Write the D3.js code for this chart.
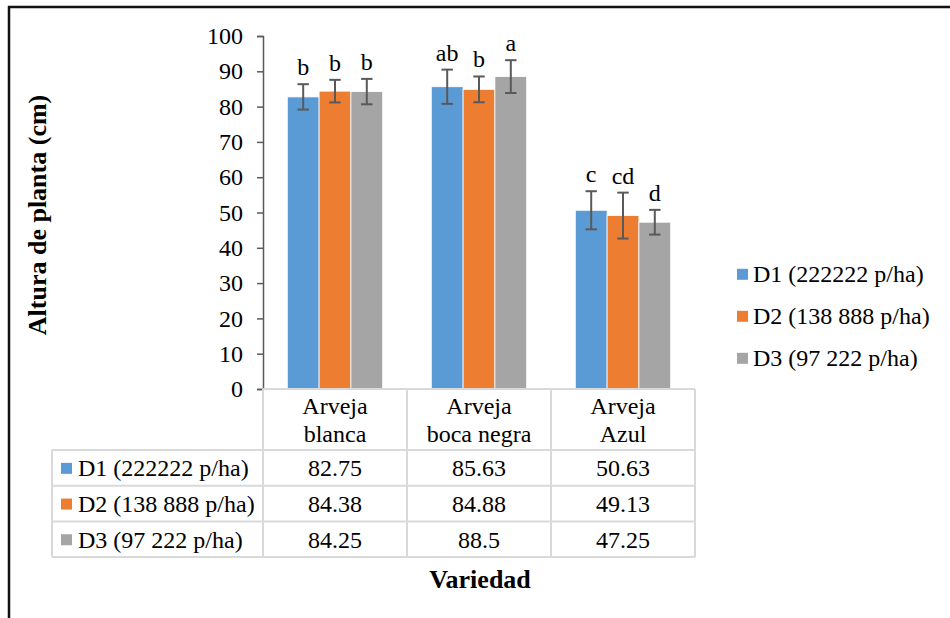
<!DOCTYPE html>
<html>
<head>
<meta charset="utf-8">
<script src="https://cdn.jsdelivr.net/npm/d3@7"></script>
<style>
  html, body { margin: 0; padding: 0; background: #fff; }
  svg { display: block; }
</style>
</head>
<body>
<svg id="chart" width="950" height="618"></svg>
<script>
// ---- data ----
const categories = [["Arveja", "blanca"], ["Arveja", "boca negra"], ["Arveja", "Azul"]];
const seriesNames = ["D1 (222222 p/ha)", "D2 (138 888 p/ha)", "D3 (97 222 p/ha)"];
const seriesColors = ["#5B9BD5", "#ED7D31", "#A5A5A5"];
const d1Values = [82.75, 85.63, 50.63];
const d2Values = [84.38, 84.88, 49.13];
const d3Values = [84.25, 88.5, 47.25];
const d1Errors = [3.6, 4.85, 5.4];
const d2Errors = [3.2, 3.65, 6.5];
const d3Errors = [3.6, 4.65, 3.5];
const d1Letters = ["b", "ab", "c"];
const d2Letters = ["b", "b", "cd"];
const d3Letters = ["b", "a", "d"];
const yTicks = [0, 10, 20, 30, 40, 50, 60, 70, 80, 90, 100];
const tableLabels = [["82.75", "85.63", "50.63"], ["84.38", "84.88", "49.13"], ["84.25", "88.5", "47.25"]];

const values = [d1Values, d2Values, d3Values];
const errors = [d1Errors, d2Errors, d3Errors];
const letters = [d1Letters, d2Letters, d3Letters];

const FONT = "'Liberation Serif'";
const svg = d3.select("#chart");

function txt(g) {
  return g.append("text").style("font-family", FONT).attr("fill", "#000");
}

// outer frame
svg.append("rect").attr("x", 9).attr("y", 7).attr("width", 960).attr("height", 640)
  .attr("fill", "none").attr("stroke", "#111").attr("stroke-width", 2.5);

const plotLeft = 263, plotRight = 695, plotTop = 36, plotBottom = 389;
const catIdx = categories.map((c, i) => i);

const x0 = d3.scaleBand().domain(catIdx).range([plotLeft, plotRight])
  .paddingInner(0.3375).paddingOuter(0.16875);
const x1 = d3.scaleBand().domain([0, 1, 2]).range([0, x0.bandwidth()]);
const y = d3.scaleLinear().domain([0, 100]).range([plotBottom, plotTop]);

// bars
const gBars = svg.append("g");
seriesNames.forEach((s, si) => {
  gBars.selectAll(null).data(catIdx).enter().append("rect")
    .attr("x", ci => x0(ci) + x1(si))
    .attr("y", ci => y(values[si][ci]))
    .attr("width", x1.bandwidth())
    .attr("height", ci => y(0) - y(values[si][ci]))
    .attr("fill", seriesColors[si])
    .attr("stroke", "#fff").attr("stroke-width", 0.8);
});

// error bars
const gErr = svg.append("g").attr("stroke", "#595959").attr("stroke-width", 2).attr("fill", "none");
const capW = 5.7;
seriesNames.forEach((s, si) => {
  catIdx.forEach(ci => {
    const cx = x0(ci) + x1(si) + x1.bandwidth() / 2;
    const top = y(values[si][ci] + errors[si][ci]);
    const bot = y(values[si][ci] - errors[si][ci]);
    gErr.append("line").attr("x1", cx).attr("x2", cx).attr("y1", top).attr("y2", bot);
    gErr.append("line").attr("x1", cx - capW).attr("x2", cx + capW).attr("y1", top).attr("y2", top);
    gErr.append("line").attr("x1", cx - capW).attr("x2", cx + capW).attr("y1", bot).attr("y2", bot);
  });
});

// letters
seriesNames.forEach((s, si) => {
  catIdx.forEach(ci => {
    txt(svg)
      .attr("x", x0(ci) + x1(si) + x1.bandwidth() / 2)
      .attr("y", y(values[si][ci] + errors[si][ci]) - 9)
      .attr("text-anchor", "middle").attr("font-size", 24)
      .text(letters[si][ci]);
  });
});

// y axis
const yAxis = d3.axisLeft(y).tickValues(yTicks).tickSize(6).tickPadding(14);
const gy = svg.append("g").attr("transform", `translate(${plotLeft},0)`).call(yAxis);
gy.attr("font-family", null);
gy.select(".domain").attr("stroke", "#595959").attr("stroke-width", 1.5);
gy.selectAll(".tick line").attr("stroke", "#595959").attr("stroke-width", 1.5);
gy.selectAll(".tick text").attr("font-size", 24).style("font-family", FONT).attr("fill", "#000");

// y title
txt(svg).attr("transform", "translate(46,215) rotate(-90)")
  .attr("text-anchor", "middle").attr("font-size", 26).attr("font-weight", "bold")
  .text("Altura de planta (cm)");

// data table
const gridColor = "#d9d9d9";
const tLeft = 52, headerBottom = 450, rowH = 35.7;
const gT = svg.append("g");
const colEdges = [plotLeft].concat(catIdx.map(ci => x0.step() * (ci + 1) + plotLeft));
gT.append("line").attr("x1", plotLeft).attr("x2", plotRight).attr("y1", plotBottom).attr("y2", plotBottom)
  .attr("stroke", gridColor).attr("stroke-width", 2);
colEdges.forEach(xe => {
  gT.append("line").attr("x1", xe).attr("x2", xe).attr("y1", plotBottom).attr("y2", headerBottom + rowH * 3)
    .attr("stroke", gridColor).attr("stroke-width", 2);
});
gT.append("line").attr("x1", tLeft).attr("x2", tLeft).attr("y1", headerBottom).attr("y2", headerBottom + rowH * 3)
  .attr("stroke", gridColor).attr("stroke-width", 2);
for (let r = 0; r <= 3; r++) {
  gT.append("line").attr("x1", tLeft).attr("x2", plotRight)
    .attr("y1", headerBottom + rowH * r).attr("y2", headerBottom + rowH * r)
    .attr("stroke", gridColor).attr("stroke-width", 2);
}
catIdx.forEach(ci => {
  const cx = x0(ci) + x0.bandwidth() / 2;
  categories[ci].forEach((line, li) => {
    txt(gT).attr("x", cx).attr("y", 414 + li * 28)
      .attr("text-anchor", "middle").attr("font-size", 24).text(line);
  });
});
seriesNames.forEach((s, si) => {
  const cy = headerBottom + rowH * si + rowH / 2;
  gT.append("rect").attr("x", 61).attr("y", cy - 5).attr("width", 11).attr("height", 11).attr("fill", seriesColors[si]);
  txt(gT).attr("x", 78).attr("y", cy + 8.5).attr("font-size", 24).text(s);
  catIdx.forEach(ci => {
    txt(gT).attr("x", x0(ci) + x0.bandwidth() / 2).attr("y", cy + 8.5)
      .attr("text-anchor", "middle").attr("font-size", 24).text(tableLabels[si][ci]);
  });
});

// x title
txt(svg).attr("x", 480).attr("y", 588).attr("text-anchor", "middle")
  .attr("font-size", 26).attr("font-weight", "bold").text("Variedad");

// legend
const legendY = [274.3, 316.3, 358.3];
seriesNames.forEach((s, si) => {
  svg.append("rect").attr("x", 737).attr("y", legendY[si] - 5.5).attr("width", 11).attr("height", 11).attr("fill", seriesColors[si]);
  txt(svg).attr("x", 753).attr("y", legendY[si] + 8).attr("font-size", 24).text(s);
});
</script>
</body>
</html>
